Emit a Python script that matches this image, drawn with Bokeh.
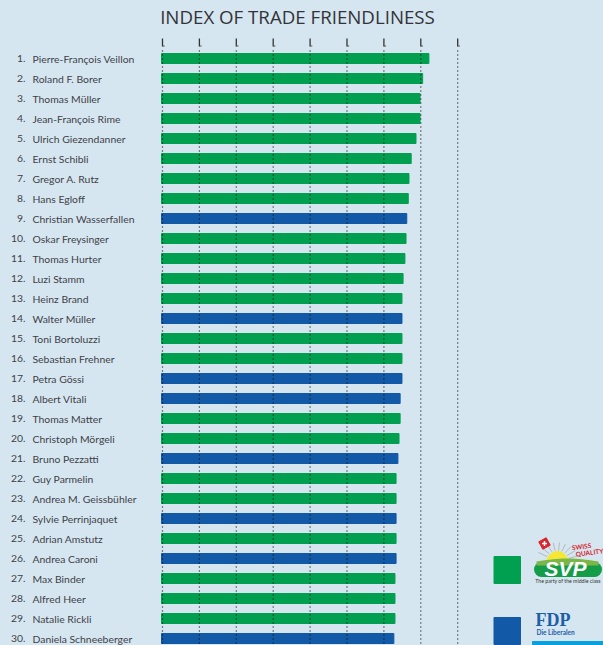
import numpy as np
from bokeh.core.properties import value
from bokeh.embed import file_html
from bokeh.models import ColumnDataSource, Range1d
from bokeh.plotting import figure
from bokeh.resources import INLINE

names = ["Pierre-François Veillon", "Roland F. Borer", "Thomas Müller", "Jean-François Rime",
         "Ulrich Giezendanner", "Ernst Schibli", "Gregor A. Rutz", "Hans Egloff",
         "Christian Wasserfallen", " Oskar Freysinger", "Thomas Hurter", "Luzi Stamm",
         "Heinz Brand", "Walter Müller", "Toni Bortoluzzi", "Sebastian Frehner", "Petra Gössi",
         "Albert Vitali", "Thomas Matter", "Christoph Mörgeli", "Bruno Pezzatti", "Guy Parmelin",
         "Andrea M. Geissbühler", "Sylvie Perrinjaquet", "Adrian Amstutz", "Andrea Caroni",
         "Max Binder", "Alfred Heer", "Natalie Rickli", "Daniela Schneeberger"]
scores = [72.2, 70.5, 69.8, 69.8, 68.7, 67.4, 66.8, 66.6, 66.2, 66.0, 65.7, 65.2, 64.9, 64.9, 64.9,
          64.9, 64.9, 64.4, 64.4, 64.1, 63.8, 63.3, 63.3, 63.3, 63.3, 63.3, 63.0, 63.0, 63.0, 62.7]
parties = ["SVP", "SVP", "SVP", "SVP", "SVP", "SVP", "SVP", "SVP", "FDP", "SVP", "SVP", "SVP", "SVP",
           "FDP", "SVP", "SVP", "FDP", "FDP", "SVP", "SVP", "FDP", "SVP", "SVP", "FDP", "SVP", "FDP",
           "SVP", "SVP", "SVP", "FDP"]
tick_values = [0, 10, 20, 30, 40, 50, 60, 70, 80]
party_colors = {"SVP": "#00a050", "FDP": "#1259a8"}
title_text = "INDEX OF TRADE FRIENDLINESS"

BG = "#d5e6f1"
W, H = 603, 645
X0, PXU = 162.0, 3.69     # pixel of value 0, pixels per value unit
Y1, PXR = 58.0, 20.0      # pixel of rank 1, pixels per rank


def X(px):
    return (np.asarray(px, dtype=float) - X0) / PXU


def Y(py):
    return (np.asarray(py, dtype=float) - Y1) / PXR + 1


p = figure(width=W, height=H, output_backend="svg", toolbar_location=None,
           x_range=Range1d(float(X(0)), float(X(W))), y_range=Range1d(float(Y(H)), float(Y(0))),
           min_border=0, background_fill_color=BG, border_fill_color=BG)
p.axis.visible = False
p.grid.visible = False
p.outline_line_color = None

ranks = list(range(1, len(names) + 1))
src = ColumnDataSource(dict(rank=ranks, score=scores, name=names,
                            num=[f"{r}." for r in ranks],
                            color=[party_colors[q] for q in parties]))

p.hbar(y="rank", left=float(X(161)), right="score", height=0.5, color="color", source=src)

# dotted reference lines and their short ticks
top = float(Y(50))
bottom = float(Y(H))
p.segment(x0=tick_values, x1=tick_values, y0=[top] * 9, y1=[bottom] * 9,
          line_color="#111111", line_width=1.2, line_dash="1 3")
p.segment(x0=tick_values, x1=tick_values, y0=[float(Y(38))] * 9, y1=[float(Y(46))] * 9,
          line_color="#333333", line_width=1.3)
p.segment(x0=tick_values, x1=[t + 0.6 for t in tick_values],
          y0=[float(Y(45.5))] * 9, y1=[float(Y(45.5))] * 9, line_color="#555555", line_width=1)

LABEL = "#3f3f46"
p.text(x=float(X(25)), y="rank", text="num", source=src, text_align="right", text_baseline="middle",
       text_font=value("Lato"), text_font_size="10.4px", text_color=LABEL)
p.text(x=float(X(32)), y="rank", text="name", source=src, text_align="left", text_baseline="middle",
       text_font=value("Lato"), text_font_size="10.4px", text_color=LABEL)
p.text(x=[float(X(297))], y=[float(Y(15.5))], text=[title_text], text_align="center", text_baseline="middle",
       text_font=value("Open Sans"), text_font_size="18.7px", text_color="#333338")

# legend swatches
for py0, py1, q in [(556, 583, "SVP"), (617, 644, "FDP")]:
    p.quad(left=float(X(493.5)), right=float(X(520)), top=float(Y(py0)), bottom=float(Y(py1)),
           color=party_colors[q])

# SVP logo
for i, a in enumerate(np.linspace(150, 20, 9)):
    r = np.radians(a)
    p.segment(x0=float(X(557 + 12 * np.cos(r))), y0=float(Y(562 - 12 * np.sin(r))),
              x1=float(X(557 + 22 * np.cos(r))), y1=float(Y(562 - 20 * np.sin(r))),
              line_color="#b5b9bb", line_width=1)
t = np.radians(np.linspace(0, 180, 30))
p.patch(X(557 + 10.5 * np.cos(t)), Y(562 - 11 * np.sin(t)), color="#f6e832")
p.line(X([541, 594]), Y([569, 569]), line_color="#149c49", line_width=15, line_cap="round")
t2 = np.linspace(0, 1, 20)
p.patch(X(np.r_[536 + 62 * t2, 598, 536]), Y(np.r_[561 - 3 * np.sin(t2 * np.pi), 565, 565]),
        color="#7ab648", line_color=None)
p.text(x=[float(X(565))], y=[float(Y(568))], text=["SVP"], text_align="center", text_baseline="middle",
       text_font=value("Liberation Sans"), text_font_style="bold italic", text_font_size="21px",
       text_color="white")
rot = np.radians(np.array([45, 135, 225, 315]))
p.patch(X(544 + 6 * np.cos(rot + 0.5)), Y(543 - 6 * np.sin(rot + 0.5)), color="#d8232a")
p.segment(x0=float(X(541.5)), x1=float(X(546.5)), y0=float(Y(543)), y1=float(Y(543)), line_color="white", line_width=1.5)
p.segment(x0=float(X(544)), x1=float(X(544)), y0=float(Y(540.5)), y1=float(Y(545.5)), line_color="white", line_width=1.5)
p.text(x=[float(X(581)), float(X(589))], y=[float(Y(546)), float(Y(552))], text=["SWISS", "QUALITY"],
       angle=0.12, text_align="center", text_baseline="middle",
       text_font=value("Lato"), text_font_style="bold", text_font_size="6.5px",
       text_color="#d8232a")
p.text(x=[float(X(567.5))], y=[float(Y(580))], text=["The party of the middle class"], text_align="center",
       text_baseline="middle", text_font=value("Lato"), text_font_size="5.2px",
       text_color="#333333")

# FDP logo
p.text(x=[float(X(535))], y=[float(Y(619))], text=["FDP"], text_align="left", text_baseline="middle",
       text_font=value("Liberation Serif"), text_font_style="bold", text_font_size="18px", text_color="#1d5ea8")
p.text(x=[float(X(536))], y=[float(Y(632))], text=["Die Liberalen"], text_align="left", text_baseline="middle",
       text_font=value("Lato"), text_font_style="bold", text_font_size="6.5px",
       text_color="#1d5ea8")
p.quad(left=float(X(532)), right=float(X(W)), top=float(Y(641)), bottom=float(Y(H)), color="#0aa0e0")

html = file_html(p, INLINE)
html = html.replace("<head>", f"<head><style>html,body{{margin:0;background:{BG};overflow:hidden}}</style>", 1)
open("out.html", "w").write(html)
